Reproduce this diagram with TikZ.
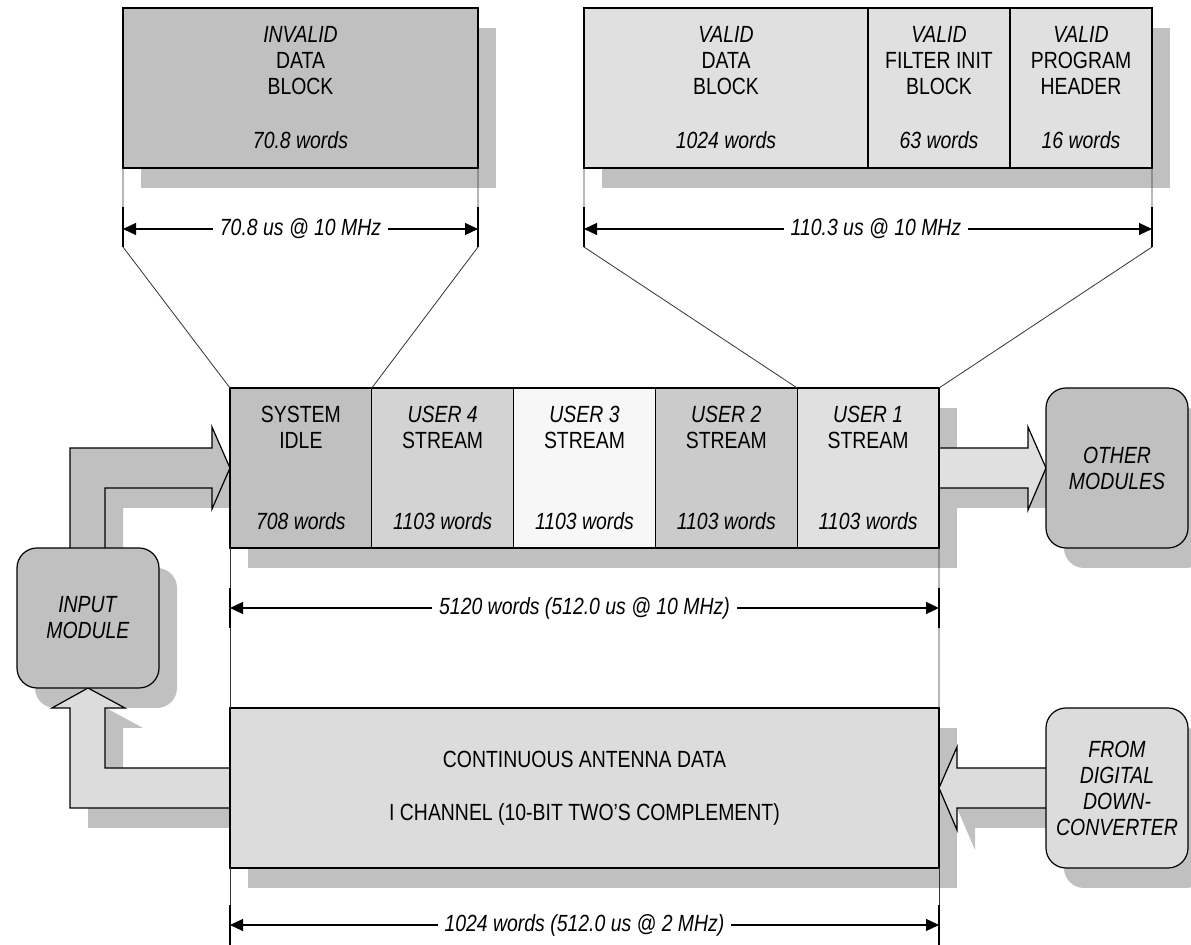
\documentclass[tikz,border=0pt]{standalone}
\usepackage{fontspec}
\setmainfont{Liberation Sans}[FakeStretch=0.83]
\usepackage{tikz}
\usetikzlibrary{calc}
\usetikzlibrary{positioning}
\usetikzlibrary{arrows.meta}
\usepackage{xcolor}

\definecolor{shadowgray}{RGB}{192,192,192}
\definecolor{idlegray}{RGB}{192,192,192}
\definecolor{usrfourgray}{RGB}{211,211,211}
\definecolor{usrthreegray}{RGB}{247,247,247}
\definecolor{usrtwogray}{RGB}{203,203,203}
\definecolor{usronegray}{RGB}{224,224,224}
\definecolor{antgray}{RGB}{220,220,220}

\pgfdeclarelayer{back}
\pgfdeclarelayer{mid}
\pgfsetlayers{back,mid,main}

% the four fat arrows (used for the arrow and for its shadow)
\newcommand{\upflow}{($(in.north)+(-18,0)$) |- ($(sys.west)+(-18,-20)$) -- ++(0,-21) -- (sys.west) -- ($(sys.west)+(-18,41)$) -- ++(0,-21) -| ($(in.north)+(17,0)$)}
\newcommand{\backflow}{($(cont.west)+(0,20)$) -| ($(in.south)+(-18,20)$) -- ++(-18,0) -- (in.south) -- ($(in.south)+(37,20)$) -- ++(-20,0) |- ($(cont.west)+(0,-20)$)}
\newcommand{\outflow}{($(usr1.east)+(0,-20)$) -- ($(oth.west)+(-18,-20)$) -- ++(0,-21) -- (oth.west) -- ($(oth.west)+(-18,42)$) -- ++(0,-22) -- ($(usr1.east)+(0,20)$)}
\newcommand{\inflow}{($(ddc.west)+(0,-20)$) -- ($(cont.east)+(18,-20)$) -- ++(0,-21) -- (cont.east) -- ($(cont.east)+(18,42)$) -- ++(0,-22) -- ($(ddc.west)+(0,20)$)}

\begin{document}
\begin{tikzpicture}[x=0.5pt, y=-0.5pt,
    font=\fontsize{11.7pt}{13pt}\selectfont,
    block/.style={draw, line width=0.6pt, inner sep=0pt, outer sep=0pt,
        align=center, minimum height=80pt, anchor=north west},
    module/.style={block, rounded corners=10pt, minimum width=71pt},
    dimline/.style={{Triangle[length=6.5pt,width=6pt]}-{Triangle[length=6.5pt,width=6pt]}, line width=0.6pt},
    dimtext/.style={fill=white, inner xsep=3.5pt, inner ysep=1pt,
        font=\fontsize{11.7pt}{13pt}\selectfont\itshape},
    extline/.style={line width=0.4pt, black!80},
    tickline/.style={line width=0.6pt},
    fatarrow/.style={draw, line width=0.6pt}]

    \useasboundingbox (0,0) rectangle (1191,945);

    % 1. Blocks at the top
    \node[block, fill=idlegray, minimum width=177.5pt] (inv) at (123,8)
        {\textit{INVALID}\\DATA\\BLOCK\\[14pt]\textit{70.8 words}};
    \node[block, fill=usronegray, minimum width=142pt] (vdata) at (584,8)
        {\textit{VALID}\\DATA\\BLOCK\\[14pt]\textit{1024 words}};
    \node[block, fill=usronegray, minimum width=71pt, right=0pt of vdata] (vfilt)
        {\textit{VALID}\\FILTER INIT\\BLOCK\\[14pt]\textit{63 words}};
    \node[block, fill=usronegray, minimum width=71pt, right=0pt of vfilt] (vhead)
        {\textit{VALID}\\PROGRAM\\HEADER\\[14pt]\textit{16 words}};

    % 2. The stream
    \node[block, fill=idlegray, minimum width=70.9pt] (sys) at (230,388)
        {SYSTEM\\IDLE\\[27.5pt]\textit{708 words}};
    \node[block, fill=usrfourgray, minimum width=70.9pt, right=0pt of sys] (usr4)
        {\textit{USER 4}\\STREAM\\[27.5pt]\textit{1103 words}};
    \node[block, fill=usrthreegray, minimum width=70.9pt, right=0pt of usr4] (usr3)
        {\textit{USER 3}\\STREAM\\[27.5pt]\textit{1103 words}};
    \node[block, fill=usrtwogray, minimum width=70.9pt, right=0pt of usr3] (usr2)
        {\textit{USER 2}\\STREAM\\[27.5pt]\textit{1103 words}};
    \node[block, fill=usronegray, minimum width=70.9pt, right=0pt of usr2] (usr1)
        {\textit{USER 1}\\STREAM\\[27.5pt]\textit{1103 words}};

    % 3. Antenna data
    \node[block, fill=antgray, minimum width=354.5pt] (cont) at (230,708)
        {CONTINUOUS ANTENNA DATA\\[13.5pt]I CHANNEL (10-BIT TWO'S COMPLEMENT)};

    % 4. Modules
    \node[module, fill=idlegray, minimum height=70pt] (in) at (17,548)
        {\textit{INPUT}\\\textit{MODULE}};
    \node[module, fill=idlegray] (oth) at (1046,388)
        {\textit{OTHER}\\\textit{MODULES}};
    \node[module, fill=antgray] (ddc) at (1046,708)
        {\textit{FROM}\\\textit{DIGITAL}\\\textit{DOWN-}\\\textit{CONVERTER}};

    % 5. Fat arrows
    \begin{pgfonlayer}{mid}
        \filldraw[fatarrow, fill=idlegray] \upflow;
        \filldraw[fatarrow, fill=antgray] \backflow;
        \filldraw[fatarrow, fill=usronegray] \outflow;
        \filldraw[fatarrow, fill=antgray] \inflow;
    \end{pgfonlayer}

    % 6. Shadows
    \begin{pgfonlayer}{back}
        \begin{scope}[transform canvas={shift={(18,20)}}]
            \fill[shadowgray] (inv.north west) rectangle (inv.south east);
            \fill[shadowgray] (vdata.north west) rectangle (vhead.south east);
            \fill[shadowgray] (sys.north west) rectangle (usr1.south east);
            \fill[shadowgray] (cont.north west) rectangle (cont.south east);
            \fill[shadowgray, rounded corners=10pt] (in.north west) rectangle (in.south east);
            \fill[shadowgray, rounded corners=10pt] (oth.north west) rectangle (oth.south east);
            \fill[shadowgray, rounded corners=10pt] (ddc.north west) rectangle (ddc.south east);
            \fill[shadowgray] \upflow;
            \fill[shadowgray] \backflow;
            \fill[shadowgray] \outflow;
            \fill[shadowgray] \inflow;
        \end{scope}
    \end{pgfonlayer}

    % 7. Extension lines
    \coordinate (k1) at ($(inv.south west)+(0,79)$);
    \coordinate (k2) at ($(inv.south east)+(0,79)$);
    \coordinate (k3) at ($(vdata.south west)+(0,79)$);
    \coordinate (k4) at ($(vhead.south east)+(0,79)$);
    \draw[extline] (inv.south west) -- (k1) -- (sys.north west);
    \draw[extline] (inv.south east) -- (k2) -- (sys.north east);
    \draw[extline] (vdata.south west) -- (k3) -- (usr1.north west);
    \draw[extline] (vhead.south east) -- (k4) -- (usr1.north east);
    \draw[extline] (sys.south west) -- (cont.north west);
    \draw[extline] (usr1.south east) -- (cont.north east);
    \draw[extline] (cont.south west) -- ++(0,77) coordinate (b1);
    \draw[extline] (cont.south east) -- ++(0,77) coordinate (b2);

    % 8. Dimension lines
    \foreach \k in {k1,k2,k3,k4} {
        \draw[tickline] (\k) -- ++(0,-40);
    }
    \draw[tickline] ($(sys.south west)+(0,40)$) -- ++(0,40);
    \draw[tickline] ($(usr1.south east)+(0,40)$) -- ++(0,40);
    \draw[tickline] (b1) -- ++(0,-40);
    \draw[tickline] (b2) -- ++(0,-40);

    \draw[dimline] ($(k1)+(0,-18)$) -- node[dimtext] (w1) {70.8 us @ 10 MHz} ($(k2)+(0,-18)$);
    \draw[dimline] ($(k3)+(0,-18)$) -- node[dimtext, pos=0.514] (w2) {110.3 us @ 10 MHz} ($(k4)+(0,-18)$);
    \draw[dimline] ($(sys.south west)+(0,60)$) -- node[dimtext] (w3) {5120 words (512.0 us @ 10 MHz)} ($(usr1.south east)+(0,60)$);
    \draw[dimline] ($(b1)+(0,-20)$) -- node[dimtext] (w4) {1024 words (512.0 us @ 2 MHz)} ($(b2)+(0,-20)$);

\end{tikzpicture}
\end{document}
